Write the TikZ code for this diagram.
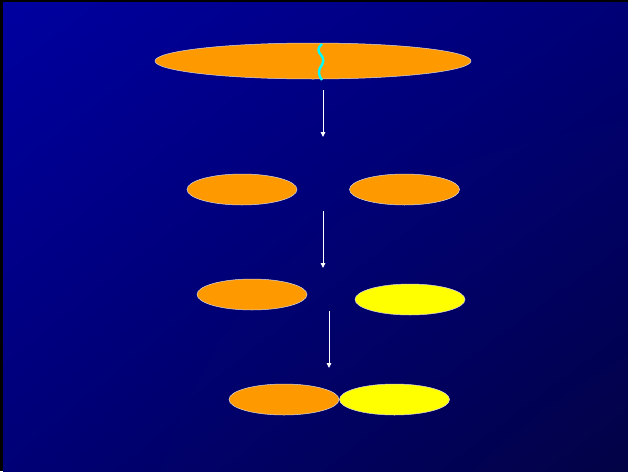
\documentclass[tikz,border=0pt]{standalone}
\usepackage{xcolor}
\usepackage{tikz}
\usetikzlibrary{arrows.meta,positioning,shapes.geometric,shadings}

\definecolor{cellorange}{RGB}{255,153,0}
\definecolor{cellyellow}{RGB}{255,255,0}
\definecolor{cutcyan}{RGB}{0,255,255}
\definecolor{bgtl}{RGB}{0,0,160}
\definecolor{bgmid}{RGB}{0,0,118}
\definecolor{bgbr}{RGB}{2,2,70}
\definecolor{rimgray}{RGB}{215,215,225}

\begin{document}
\begin{tikzpicture}[
    x=1pt,
    y=-1pt,
    >=Stealth,
    cell/.style={ellipse,draw=rimgray,line width=0.5pt,inner sep=0pt,
                 minimum width=110pt,minimum height=31pt},
    longcell/.style={cell,minimum width=316pt,minimum height=36pt},
    dir/.style={-{Triangle[length=5pt,width=4.5pt]},
                draw=white,line width=0.9pt}
]

\useasboundingbox (0,0) rectangle (628,471);

% background
\fill[black] (0,0) rectangle (628,471);
\shade[upper left=bgtl,upper right=bgmid,lower left=bgmid,lower right=bgbr]
    (3,2) rectangle (628,471);

% cells
\node[longcell,fill=cellorange] (whole) at (313,61) {};

\node[cell,fill=cellorange] (halfL) at (242,189.5) {};
\node[cell,fill=cellorange] (halfR) at (404.5,189.5) {};

\node[cell,fill=cellorange] (keptL) at (252,294.5) {};
\node[cell,fill=cellyellow] (newR) at (410,299.5) {};

\node[cell,fill=cellorange] (pairL) at (284,399.5) {};
\node[cell,fill=cellyellow] (pairR) at (394.5,399.5) {};

% cut
\draw[cutcyan,line width=2.4pt]
(322,44)
.. controls (317,48) and (318,52) ..
(321,55)
.. controls (325,59) and (323,64) ..
(320,68)
.. controls (318,72) and (319,76) ..
(322,80);

% steps
\coordinate (s1a) at (323,90);
\coordinate (s1b) at (323,137);
\coordinate (s2a) at (323,211);
\coordinate (s2b) at (323,268);
\coordinate (s3a) at (329,311);
\coordinate (s3b) at (329,368);

\draw[dir] (s1a) -- (s1b);
\draw[dir] (s2a) -- (s2b);
\draw[dir] (s3a) -- (s3b);

\end{tikzpicture}
\end{document}
